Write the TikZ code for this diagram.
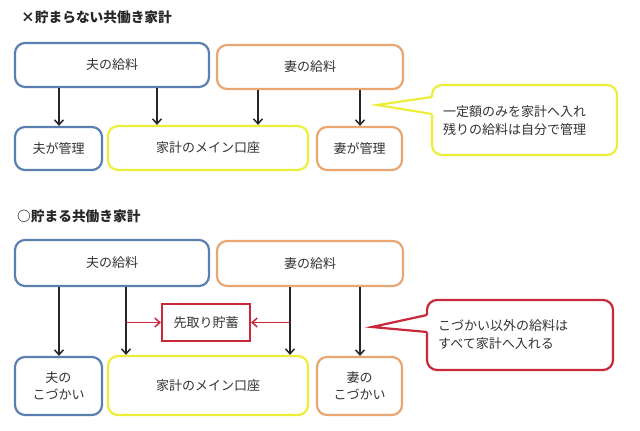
\documentclass[tikz,border=0pt]{standalone}
\usepackage{fontspec}
\setmainfont{Noto Sans CJK JP}
\usetikzlibrary{arrows.meta}
\definecolor{cblue}{HTML}{5A80B0}
\definecolor{corange}{HTML}{E8A672}
\definecolor{cyellow}{HTML}{EEEE3A}
\definecolor{cred}{HTML}{C8283A}
\definecolor{ctext}{HTML}{333333}
\tikzset{
  box/.style={draw, line width=2.2pt, rounded corners=10pt, fill=white, text=ctext,
    font=\fontsize{13}{17}\selectfont, align=center, inner sep=0pt},
  bluebox/.style={box, draw=cblue},
  orangebox/.style={box, draw=corange},
  yellowbox/.style={box, draw=cyellow},
  redbox/.style={draw=cred, line width=2.2pt, fill=white, text=ctext, font=\fontsize{13}{17}\selectfont, inner sep=0pt},
  arr/.style={line width=1.7pt, black!85, -{Straight Barb[length=5pt,width=9pt,line width=1.5pt]}},
  rarr/.style={line width=1.7pt, cred, -{Straight Barb[length=5pt,width=9pt,line width=1.5pt]}},
  title/.style={font=\fontsize{13.7}{16}\selectfont\bfseries, text=black!85, anchor=west, inner sep=0pt},
  note/.style={font=\fontsize{13}{18}\selectfont, text=ctext, align=left, anchor=west, inner sep=0pt}
}
\begin{document}
\begin{tikzpicture}[x=1pt,y=-1pt]
\useasboundingbox (0,0) rectangle (640,431);
% ---- top section ----
\node[title] (t1) at (21,17) {×貯まらない共働き家計};
\node[bluebox, minimum width=194pt, minimum height=44pt] (h1) at (112,65) {夫の給料};
\node[orangebox, minimum width=186pt, minimum height=44pt] (w1) at (310,67) {妻の給料};
\node[bluebox, minimum width=87pt, minimum height=43pt] (hk1) at (58.5,148.5) {夫が管理};
\node[yellowbox, minimum width=200pt, minimum height=44pt] (m1) at (208,148) {家計のメイン口座};
\node[orangebox, minimum width=85pt, minimum height=43pt] (wk1) at (359.5,148.5) {妻が管理};
\coordinate (x59) at (59,0);
\coordinate (x157) at (157,0);
\coordinate (x258) at (258,0);
\coordinate (x360) at (360,0);
\draw[arr] (h1.south -| x59) -- (hk1.north -| x59);
\draw[arr] (h1.south -| x157) -- (m1.north -| x157);
\draw[arr] (w1.south -| x258) -- (m1.north -| x258);
\draw[arr] (w1.south -| x360) -- (wk1.north -| x360);
% yellow callout
\draw[cyellow, line width=2.2pt, rounded corners=10pt, fill=white] (432,85) rectangle (617,155);
\fill[white] (378,105) -- (432,97) -- (434.5,97) -- (434.5,114) -- (432,114) -- cycle;
\draw[cyellow, line width=2.2pt, line join=miter] (432,97) -- (377,105) coordinate (tip1) -- (432,114);
\node[note] (n1) at (443,121) {一定額のみを家計へ入れ\\残りの給料は自分で管理};
% ---- bottom section ----
\node[title] (t2) at (17,216) {○貯まる共働き家計};
\node[bluebox, minimum width=194pt, minimum height=46pt] (h2) at (112,263) {夫の給料};
\node[orangebox, minimum width=186pt, minimum height=45pt] (w2) at (310,263.5) {妻の給料};
\node[redbox, minimum width=88pt, minimum height=37pt] (s2) at (206,322.5) {先取り貯蓄};
\node[bluebox, minimum width=87pt, minimum height=58pt] (hk2) at (58.5,386) {夫の\\こづかい};
\node[yellowbox, minimum width=200pt, minimum height=59pt] (m2) at (208,385.5) {家計のメイン口座};
\node[orangebox, minimum width=85pt, minimum height=58pt] (wk2) at (359.5,386) {妻の\\こづかい};
\coordinate (x126) at (126,0);
\coordinate (x290) at (290,0);
\draw[arr] (h2.south -| x59) -- (hk2.north -| x59);
\draw[arr] (h2.south -| x126) -- (m2.north -| x126);
\draw[arr] (w2.south -| x290) -- (m2.north -| x290);
\draw[arr] (w2.south -| x360) -- (wk2.north -| x360);
\draw[rarr] (s2.west -| x126) -- (s2.west);
\draw[rarr] (s2.east -| x290) -- (s2.east);
% red callout
\draw[cred, line width=2.2pt, rounded corners=10pt, fill=white] (427,300) rectangle (613,370);
\fill[white] (373,327) -- (427,315) -- (429.5,315) -- (429.5,332) -- (427,332) -- cycle;
\draw[cred, line width=2.2pt, line join=miter] (427,315) -- (372,327) coordinate (tip2) -- (427,332);
\node[note] (n2) at (438,335) {こづかい以外の給料は\\すべて家計へ入れる};
\end{tikzpicture}
\end{document}
